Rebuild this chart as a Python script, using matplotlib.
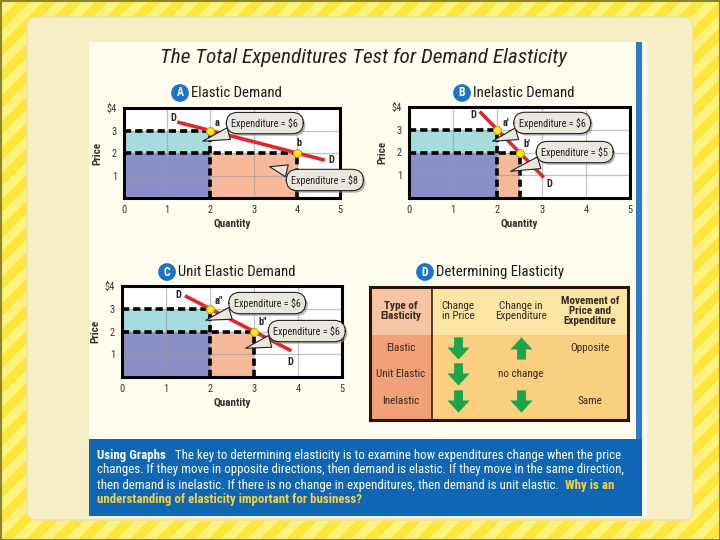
import numpy as np
import matplotlib.pyplot as plt
from matplotlib import font_manager
from matplotlib import patheffects
from matplotlib.path import Path
from matplotlib.patches import FancyBboxPatch, Rectangle, Polygon

# ---- data ----
quantity_ticks = [0, 1, 2, 3, 4, 5]
price_ticks = [1, 2, 3, 4]
price_labels = ['1', '2', '3', '$4']

# A: elastic demand
elastic_q = [2, 4]
elastic_p = [3, 2]
elastic_demand_q = [1.23, 4.65]
elastic_demand_p = [3.38, 1.68]
elastic_spend = ['Expenditure = $6', 'Expenditure = $8']
elastic_names = ['a', 'b']

# B: inelastic demand
inelastic_q = [2, 2.5]
inelastic_p = [3, 2]
inelastic_demand_q = [1.6, 3.05]
inelastic_demand_p = [3.8, 0.9]
inelastic_spend = ['Expenditure = $6', 'Expenditure = $5']
inelastic_names = ['a\u2032', 'b\u2032']

# C: unit elastic demand
unit_q = [2, 3]
unit_p = [3, 2]
unit_demand_q = [1.43, 3.85]
unit_demand_p = [3.57, 1.15]
unit_spend = ['Expenditure = $6', 'Expenditure = $6']
unit_names = ['a\u2033', 'b\u2033']

# D: table
table_header = ['Type of\nElasticity', 'Change\nin Price', 'Change in\nExpenditure',
                'Movement of\nPrice and\nExpenditure']
table_types = ['Elastic', 'Unit Elastic', 'Inelastic']
price_change = ['down', 'down', 'down']
spend_change = ['up', 'none', 'down']
movement = ['Opposite', '', 'Same']

caption = [
    [('Using Graphs', 'w', 'bold'),
     ('   The key to determining elasticity is to examine how expenditures change when the price', 'w', 'normal')],
    [('changes. If they move in opposite directions, then demand is elastic. If they move in the same direction,', 'w', 'normal')],
    [('then demand is inelastic. If there is no change in expenditures, then demand is unit elastic.', 'w', 'normal'),
     ('  Why is an', 'y', 'bold')],
    [('understanding of elasticity important for business?', 'y', 'bold')],
]

# ---- fonts ----
names = {f.name for f in font_manager.fontManager.ttflist}
fam = 'Open Sans'
for cand in ['Liberation Sans Narrow', 'Roboto Condensed', 'Open Sans Condensed', 'Open Sans']:
    if cand in names:
        fam = cand
        break
plt.rcParams['font.family'] = [fam, 'DejaVu Sans']

CYAN = '#A6DCDD'
PURPLE = '#8C8EC9'
SALMON = '#F6B99A'
RED = '#E2262B'
BLUE = '#1C74C4'

fig = plt.figure(figsize=(7.2, 5.4), dpi=100)

# background in pixel coordinates
bg = fig.add_axes([0, 0, 1, 1])
bg.set_xlim(0, 720)
bg.set_ylim(540, 0)
bg.axis('off')
bg.add_patch(Rectangle((0, 0), 720, 540, fc='#FFE63A', ec='none'))
for x0 in range(-560, 720, 26):
    bg.add_patch(Polygon([(x0, 540), (x0 + 13, 540), (x0 + 553, 0), (x0 + 540, 0)],
                         fc='#FFF27E', ec='none'))
bg.add_patch(Rectangle((0.5, 0.5), 719, 539, fc='none', ec='#8A8530', lw=1.5))
bg.add_patch(FancyBboxPatch((27, 17), 666, 503, boxstyle='round,pad=0,rounding_size=10',
                            fc='#F6EFC6', ec='#EEE3A6', lw=1.2))
bg.add_patch(Rectangle((89, 42), 558, 474, fc='#FFFDEF', ec='none'))
bg.add_patch(Rectangle((636, 42), 6, 397, fc='#2A7BC8', ec='none'))
bg.add_patch(Rectangle((89, 439), 553, 77, fc='#0F66B5', ec='none'))

bg.text(364, 57, 'The Total Expenditures Test for Demand Elasticity', ha='center', va='center',
        fontsize=15.3, style='italic', color='#222222')


def px_axes(left, top, right, bottom):
    return fig.add_axes([left / 720, 1 - bottom / 540, (right - left) / 720, (bottom - top) / 540])


def panel_title(cx, cy, letter, text):
    bg.text(cx, cy, letter, ha='center', va='center', color='white', weight='bold', fontsize=8.5,
            bbox=dict(boxstyle='circle,pad=0.2', fc=BLUE, ec='none'))
    bg.text(cx + 11, cy, text, ha='left', va='center', fontsize=10.6, color='#1A1A1A')


def bubble(ax, text, tip, center):
    ann = ax.annotate(text, xy=tip, xytext=center, ha='center', va='center', fontsize=7.3,
                      color='#222222', zorder=7, annotation_clip=False,
                      bbox=dict(boxstyle='round,pad=0.5,rounding_size=1.1', fc='#E9E7DE',
                                ec='#222222', lw=0.8),
                      arrowprops=dict(arrowstyle='wedge,tail_width=1.2,shrink_factor=0.5',
                                      fc='#E9E7DE', ec='#222222', lw=0.8))
    ann.get_bbox_patch().set_path_effects([
        patheffects.SimplePatchShadow(offset=(1.5, -1.5), shadow_rgbFace='#8A8A8A', alpha=0.6),
        patheffects.Normal()])


def demand_panel(ax, q, p, dq, dp, spend, names, layout):
    ax.set_xlim(0, 5)
    ax.set_ylim(0, 4)
    ax.set_facecolor('white')
    ax.add_patch(Rectangle((0, p[1]), q[0], p[0] - p[1], fc=CYAN, ec='none', zorder=1))
    ax.add_patch(Rectangle((0, 0), q[0], p[1], fc=PURPLE, ec='none', zorder=1))
    ax.add_patch(Rectangle((q[0], 0), q[1] - q[0], p[1], fc=SALMON, ec='none', zorder=1))
    for v in [1, 2, 3, 4]:
        ax.axvline(v, color='#9A9A9A', lw=0.9, alpha=0.6, zorder=1.5)
    for h in [1, 2, 3]:
        ax.axhline(h, color='#9A9A9A', lw=0.9, alpha=0.6, zorder=1.5)
    dash = dict(color='black', lw=2.6, ls=(0, (2, 1.1)), zorder=3, solid_capstyle='butt')
    ax.plot([0, q[0]], [p[0], p[0]], **dash)
    ax.plot([q[0], q[0]], [0, p[0]], **dash)
    ax.plot([0, q[1]], [p[1], p[1]], **dash)
    ax.plot([q[1], q[1]], [0, p[1]], **dash)
    ax.plot(dq, dp, color=RED, lw=2.6, zorder=4, solid_capstyle='butt')
    ax.scatter(q, p, s=32, c='#FFE82A', edgecolors='#C9A400', linewidths=0.8, zorder=5)
    for (x, y), name in zip(layout['names'], names):
        ax.text(x, y, name, fontsize=7.5, weight='bold', color='#222222', zorder=6)
    for (x, y) in layout['d']:
        ax.text(x, y, 'D', fontsize=7.5, weight='bold', color='#222222', ha='center', va='center', zorder=6)
    for text, tip, center in zip(spend, layout['tips'], layout['centers']):
        bubble(ax, text, tip, center)
    ax.set_xticks(quantity_ticks)
    ax.set_yticks(price_ticks, price_labels)
    ax.tick_params(length=0, labelsize=7.5, colors='#333333', pad=5)
    for s in ax.spines.values():
        s.set_linewidth(2.2)
        s.set_color('black')
    ax.set_xlabel('Quantity', fontsize=8, weight='bold', color='#333333', labelpad=3)
    ax.set_ylabel('Price', fontsize=8, weight='bold', color='#333333', labelpad=3)


panel_title(180, 93, 'A', 'Elastic Demand')
panel_title(462, 93, 'B', 'Inelastic Demand')
panel_title(167, 272, 'C', 'Unit Elastic Demand')
panel_title(425, 272, 'D', 'Determining Elasticity')

ax_a = px_axes(124, 108, 340, 198)
demand_panel(ax_a, elastic_q, elastic_p, elastic_demand_q, elastic_demand_p, elastic_spend, elastic_names,
             dict(names=[(2.1, 3.2), (4.0, 2.3)], d=[(1.14, 3.56), (4.8, 1.7)],
                  tips=[(1.76, 2.49), (3.31, 1.42)], centers=[(3.26, 3.33), (4.65, 0.8)]))

ax_b = px_axes(409, 107, 630, 198)
demand_panel(ax_b, inelastic_q, inelastic_p, inelastic_demand_q, inelastic_demand_p, inelastic_spend,
             inelastic_names,
             dict(names=[(2.12, 3.15), (2.6, 2.25)], d=[(1.45, 3.65), (3.17, 0.62)],
                  tips=[(1.83, 2.46), (2.24, 1.14)], centers=[(3.24, 3.3), (3.75, 2.02)]))

ax_c = px_axes(122, 286, 342, 377)
demand_panel(ax_c, unit_q, unit_p, unit_demand_q, unit_demand_p, unit_spend, unit_names,
             dict(names=[(2.1, 3.2), (3.1, 2.3)], d=[(1.27, 3.6), (3.82, 0.65)],
                  tips=[(1.84, 2.46), (2.75, 1.23)], centers=[(3.3, 3.25), (4.2, 2.02)]))

# ---- table D ----
ax_t = px_axes(370, 287, 628, 420)
ax_t.set_xlim(0, 258)
ax_t.set_ylim(133, 0)
ax_t.set_xticks([])
ax_t.set_yticks([])
ax_t.add_patch(Rectangle((0, 0), 62, 48, fc='#F8C5A4', ec='none'))
ax_t.add_patch(Rectangle((62, 0), 196, 48, fc='#FDE5A3', ec='none'))
ax_t.add_patch(Rectangle((0, 48), 62, 85, fc='#F1A07A', ec='none'))
ax_t.add_patch(Rectangle((62, 48), 196, 85, fc='#FBCF80', ec='none'))
ax_t.axvline(62, color='#3A2010', lw=1.2)
for s in ax_t.spines.values():
    s.set_linewidth(2.2)
    s.set_color('#2A1508')

col_x = [31, 88, 151, 220]
row_y = [61, 87, 114]
head_w = ['bold', 'normal', 'normal', 'bold']
for x, h, w in zip(col_x, table_header, head_w):
    ax_t.text(x, 24, h, ha='center', va='center', fontsize=8, weight=w, color='#3A2A20', linespacing=1.05)

arrow_down = Path([(-0.22, 0.55), (0.22, 0.55), (0.22, 0.05), (0.55, 0.05), (0, -0.55),
                   (-0.55, 0.05), (-0.22, 0.05), (-0.22, 0.55)], closed=True)
arrow_up = Path(arrow_down.vertices * [1, -1], closed=True)
GREEN = '#1DA54B'
for y, t, pc, sc, mv in zip(row_y, table_types, price_change, spend_change, movement):
    ax_t.text(col_x[0], y, t, ha='center', va='center', fontsize=8, color='#3A2A20')
    ax_t.plot(col_x[1], y, marker=arrow_down if pc == 'down' else arrow_up, ms=16, color=GREEN, mew=0)
    if sc == 'none':
        ax_t.text(col_x[2], y, 'no change', ha='center', va='center', fontsize=8, color='#3A2A20')
    else:
        ax_t.plot(col_x[2], y, marker=arrow_down if sc == 'down' else arrow_up, ms=16, color=GREEN, mew=0)
    ax_t.text(col_x[3], y, mv, ha='center', va='center', fontsize=8, color='#3A2A20')

# ---- caption ----
cap_colors = {'w': 'white', 'y': '#F4D23C'}
for i, line in enumerate(caption):
    t = None
    for s, c, w in line:
        if t is None:
            t = bg.text(97, 455 + 15 * i, s, ha='left', va='center', fontsize=9.3, weight=w,
                        color=cap_colors[c])
        else:
            t = bg.annotate(s, xy=(1, 0.5), xycoords=t, ha='left', va='center', fontsize=9.3,
                            weight=w, color=cap_colors[c])

fig.savefig('out.png', dpi=100)
